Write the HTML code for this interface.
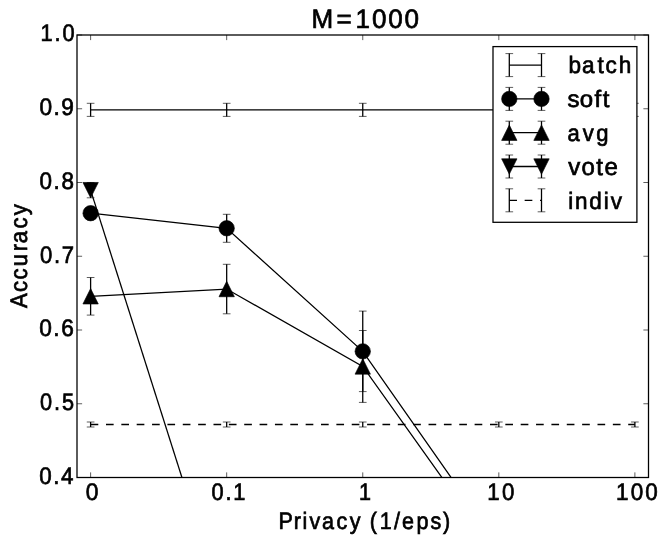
<!DOCTYPE html>
<html><head><meta charset="utf-8"><title>M=1000</title>
<style>
html,body{margin:0;padding:0;background:#fff;}
svg{display:block;will-change:transform;filter:grayscale(1)}
text{font-family:"Liberation Sans",sans-serif;fill:#000;font-kerning:none;text-rendering:geometricPrecision;stroke:#000;stroke-width:0.7px;}
</style></head>
<body>
<svg width="664" height="543" viewBox="0 0 664 543">
<rect width="664" height="543" fill="#fff"/>
<clipPath id="ax"><rect x="77.0" y="35.0" width="571.5" height="442.5"/></clipPath>
<g clip-path="url(#ax)">
<polyline points="90.61,109.85 634.89,109.85" fill="none" stroke="#000" stroke-width="1.28"/>
<line x1="90.61" y1="103.30" x2="90.61" y2="116.40" stroke="#000" stroke-width="1.28"/><line x1="86.77" y1="103.30" x2="94.45" y2="103.30" stroke="#000" stroke-width="0.64"/><line x1="86.77" y1="116.40" x2="94.45" y2="116.40" stroke="#000" stroke-width="0.64"/>
<line x1="226.68" y1="103.30" x2="226.68" y2="116.40" stroke="#000" stroke-width="1.28"/><line x1="222.84" y1="103.30" x2="230.52" y2="103.30" stroke="#000" stroke-width="0.64"/><line x1="222.84" y1="116.40" x2="230.52" y2="116.40" stroke="#000" stroke-width="0.64"/>
<line x1="362.75" y1="103.30" x2="362.75" y2="116.40" stroke="#000" stroke-width="1.28"/><line x1="358.91" y1="103.30" x2="366.59" y2="103.30" stroke="#000" stroke-width="0.64"/><line x1="358.91" y1="116.40" x2="366.59" y2="116.40" stroke="#000" stroke-width="0.64"/>
<line x1="498.82" y1="103.30" x2="498.82" y2="116.40" stroke="#000" stroke-width="1.28"/><line x1="494.98" y1="103.30" x2="502.66" y2="103.30" stroke="#000" stroke-width="0.64"/><line x1="494.98" y1="116.40" x2="502.66" y2="116.40" stroke="#000" stroke-width="0.64"/>
<line x1="634.89" y1="103.30" x2="634.89" y2="116.40" stroke="#000" stroke-width="1.28"/><line x1="631.05" y1="103.30" x2="638.73" y2="103.30" stroke="#000" stroke-width="0.64"/><line x1="631.05" y1="116.40" x2="638.73" y2="116.40" stroke="#000" stroke-width="0.64"/>
<polyline points="90.61,213.20 226.68,228.30 362.75,351.35 508.88,560.00" fill="none" stroke="#000" stroke-width="1.28"/>
<line x1="226.68" y1="214.30" x2="226.68" y2="242.30" stroke="#000" stroke-width="1.28"/><line x1="222.84" y1="214.30" x2="230.52" y2="214.30" stroke="#000" stroke-width="0.64"/><line x1="222.84" y1="242.30" x2="230.52" y2="242.30" stroke="#000" stroke-width="0.64"/>
<line x1="362.75" y1="311.10" x2="362.75" y2="391.60" stroke="#000" stroke-width="1.28"/><line x1="358.91" y1="311.10" x2="366.59" y2="311.10" stroke="#000" stroke-width="0.64"/><line x1="358.91" y1="391.60" x2="366.59" y2="391.60" stroke="#000" stroke-width="0.64"/>
<circle cx="90.61" cy="213.20" r="7.68" fill="#000" stroke="#000" stroke-width="0.64"/>
<circle cx="226.68" cy="228.30" r="7.68" fill="#000" stroke="#000" stroke-width="0.64"/>
<circle cx="362.75" cy="351.35" r="7.68" fill="#000" stroke="#000" stroke-width="0.64"/>
<polyline points="90.61,296.30 226.68,289.05 362.75,366.45 500.72,560.00" fill="none" stroke="#000" stroke-width="1.28"/>
<line x1="90.61" y1="277.50" x2="90.61" y2="315.10" stroke="#000" stroke-width="1.28"/><line x1="86.77" y1="277.50" x2="94.45" y2="277.50" stroke="#000" stroke-width="0.64"/><line x1="86.77" y1="315.10" x2="94.45" y2="315.10" stroke="#000" stroke-width="0.64"/>
<line x1="226.68" y1="264.30" x2="226.68" y2="313.80" stroke="#000" stroke-width="1.28"/><line x1="222.84" y1="264.30" x2="230.52" y2="264.30" stroke="#000" stroke-width="0.64"/><line x1="222.84" y1="313.80" x2="230.52" y2="313.80" stroke="#000" stroke-width="0.64"/>
<line x1="362.75" y1="330.50" x2="362.75" y2="402.40" stroke="#000" stroke-width="1.28"/><line x1="358.91" y1="330.50" x2="366.59" y2="330.50" stroke="#000" stroke-width="0.64"/><line x1="358.91" y1="402.40" x2="366.59" y2="402.40" stroke="#000" stroke-width="0.64"/>
<polygon points="90.61,288.62 82.93,303.98 98.29,303.98" fill="#000" stroke="#000" stroke-width="0.64" stroke-linejoin="miter"/>
<polygon points="226.68,281.37 219.00,296.73 234.36,296.73" fill="#000" stroke="#000" stroke-width="0.64" stroke-linejoin="miter"/>
<polygon points="362.75,358.77 355.07,374.13 370.43,374.13" fill="#000" stroke="#000" stroke-width="0.64" stroke-linejoin="miter"/>
<polyline points="90.61,190.15 208.15,560.00" fill="none" stroke="#000" stroke-width="1.28"/>
<line x1="90.61" y1="182.50" x2="90.61" y2="197.80" stroke="#000" stroke-width="1.28"/><line x1="86.77" y1="182.50" x2="94.45" y2="182.50" stroke="#000" stroke-width="0.64"/><line x1="86.77" y1="197.80" x2="94.45" y2="197.80" stroke="#000" stroke-width="0.64"/>
<polygon points="90.61,197.83 98.29,182.47 82.93,182.47" fill="#000" stroke="#000" stroke-width="0.64" stroke-linejoin="miter"/>
<polyline points="90.61,424.50 634.89,424.50" fill="none" stroke="#000" stroke-width="1.28" stroke-dasharray="7.68 7.68"/>
<line x1="90.61" y1="422.00" x2="90.61" y2="427.00" stroke="#000" stroke-width="1.28"/><line x1="86.77" y1="422.00" x2="94.45" y2="422.00" stroke="#000" stroke-width="0.64"/><line x1="86.77" y1="427.00" x2="94.45" y2="427.00" stroke="#000" stroke-width="0.64"/>
<line x1="226.68" y1="422.00" x2="226.68" y2="427.00" stroke="#000" stroke-width="1.28"/><line x1="222.84" y1="422.00" x2="230.52" y2="422.00" stroke="#000" stroke-width="0.64"/><line x1="222.84" y1="427.00" x2="230.52" y2="427.00" stroke="#000" stroke-width="0.64"/>
<line x1="362.75" y1="422.00" x2="362.75" y2="427.00" stroke="#000" stroke-width="1.28"/><line x1="358.91" y1="422.00" x2="366.59" y2="422.00" stroke="#000" stroke-width="0.64"/><line x1="358.91" y1="427.00" x2="366.59" y2="427.00" stroke="#000" stroke-width="0.64"/>
<line x1="498.82" y1="422.00" x2="498.82" y2="427.00" stroke="#000" stroke-width="1.28"/><line x1="494.98" y1="422.00" x2="502.66" y2="422.00" stroke="#000" stroke-width="0.64"/><line x1="494.98" y1="427.00" x2="502.66" y2="427.00" stroke="#000" stroke-width="0.64"/>
<line x1="634.89" y1="422.00" x2="634.89" y2="427.00" stroke="#000" stroke-width="1.28"/><line x1="631.05" y1="422.00" x2="638.73" y2="422.00" stroke="#000" stroke-width="0.64"/><line x1="631.05" y1="427.00" x2="638.73" y2="427.00" stroke="#000" stroke-width="0.64"/>
</g>
<rect x="77.0" y="35.0" width="571.5" height="442.5" fill="none" stroke="#000" stroke-width="1.28"/>
<line x1="90.61" y1="477.5" x2="90.61" y2="472.38" stroke="#000" stroke-width="0.64"/>
<line x1="90.61" y1="35.0" x2="90.61" y2="40.12" stroke="#000" stroke-width="0.64"/>
<line x1="226.68" y1="477.5" x2="226.68" y2="472.38" stroke="#000" stroke-width="0.64"/>
<line x1="226.68" y1="35.0" x2="226.68" y2="40.12" stroke="#000" stroke-width="0.64"/>
<line x1="362.75" y1="477.5" x2="362.75" y2="472.38" stroke="#000" stroke-width="0.64"/>
<line x1="362.75" y1="35.0" x2="362.75" y2="40.12" stroke="#000" stroke-width="0.64"/>
<line x1="498.82" y1="477.5" x2="498.82" y2="472.38" stroke="#000" stroke-width="0.64"/>
<line x1="498.82" y1="35.0" x2="498.82" y2="40.12" stroke="#000" stroke-width="0.64"/>
<line x1="634.89" y1="477.5" x2="634.89" y2="472.38" stroke="#000" stroke-width="0.64"/>
<line x1="634.89" y1="35.0" x2="634.89" y2="40.12" stroke="#000" stroke-width="0.64"/>
<line x1="77.0" y1="35.00" x2="82.12" y2="35.00" stroke="#000" stroke-width="0.64"/>
<line x1="648.5" y1="35.00" x2="643.38" y2="35.00" stroke="#000" stroke-width="0.64"/>
<line x1="77.0" y1="108.75" x2="82.12" y2="108.75" stroke="#000" stroke-width="0.64"/>
<line x1="648.5" y1="108.75" x2="643.38" y2="108.75" stroke="#000" stroke-width="0.64"/>
<line x1="77.0" y1="182.50" x2="82.12" y2="182.50" stroke="#000" stroke-width="0.64"/>
<line x1="648.5" y1="182.50" x2="643.38" y2="182.50" stroke="#000" stroke-width="0.64"/>
<line x1="77.0" y1="256.25" x2="82.12" y2="256.25" stroke="#000" stroke-width="0.64"/>
<line x1="648.5" y1="256.25" x2="643.38" y2="256.25" stroke="#000" stroke-width="0.64"/>
<line x1="77.0" y1="330.00" x2="82.12" y2="330.00" stroke="#000" stroke-width="0.64"/>
<line x1="648.5" y1="330.00" x2="643.38" y2="330.00" stroke="#000" stroke-width="0.64"/>
<line x1="77.0" y1="403.75" x2="82.12" y2="403.75" stroke="#000" stroke-width="0.64"/>
<line x1="648.5" y1="403.75" x2="643.38" y2="403.75" stroke="#000" stroke-width="0.64"/>
<line x1="77.0" y1="477.50" x2="82.12" y2="477.50" stroke="#000" stroke-width="0.64"/>
<line x1="648.5" y1="477.50" x2="643.38" y2="477.50" stroke="#000" stroke-width="0.64"/>
<rect x="493.0" y="46.6" width="143.90" height="175.70" fill="#fff" stroke="#000" stroke-width="1.28"/>
<polyline points="509.30,65.10 541.50,65.10" fill="none" stroke="#000" stroke-width="1.28"/>
<line x1="509.30" y1="53.60" x2="509.30" y2="76.60" stroke="#000" stroke-width="1.28"/><line x1="505.46" y1="53.60" x2="513.14" y2="53.60" stroke="#000" stroke-width="0.64"/><line x1="505.46" y1="76.60" x2="513.14" y2="76.60" stroke="#000" stroke-width="0.64"/>
<line x1="541.50" y1="53.60" x2="541.50" y2="76.60" stroke="#000" stroke-width="1.28"/><line x1="537.66" y1="53.60" x2="545.34" y2="53.60" stroke="#000" stroke-width="0.64"/><line x1="537.66" y1="76.60" x2="545.34" y2="76.60" stroke="#000" stroke-width="0.64"/>
<polyline points="509.30,98.90 541.50,98.90" fill="none" stroke="#000" stroke-width="1.28"/>
<line x1="509.30" y1="87.40" x2="509.30" y2="110.40" stroke="#000" stroke-width="1.28"/><line x1="505.46" y1="87.40" x2="513.14" y2="87.40" stroke="#000" stroke-width="0.64"/><line x1="505.46" y1="110.40" x2="513.14" y2="110.40" stroke="#000" stroke-width="0.64"/>
<line x1="541.50" y1="87.40" x2="541.50" y2="110.40" stroke="#000" stroke-width="1.28"/><line x1="537.66" y1="87.40" x2="545.34" y2="87.40" stroke="#000" stroke-width="0.64"/><line x1="537.66" y1="110.40" x2="545.34" y2="110.40" stroke="#000" stroke-width="0.64"/>
<circle cx="509.30" cy="98.90" r="7.68" fill="#000" stroke="#000" stroke-width="0.64"/>
<circle cx="541.50" cy="98.90" r="7.68" fill="#000" stroke="#000" stroke-width="0.64"/>
<polyline points="509.30,132.70 541.50,132.70" fill="none" stroke="#000" stroke-width="1.28"/>
<line x1="509.30" y1="121.20" x2="509.30" y2="144.20" stroke="#000" stroke-width="1.28"/><line x1="505.46" y1="121.20" x2="513.14" y2="121.20" stroke="#000" stroke-width="0.64"/><line x1="505.46" y1="144.20" x2="513.14" y2="144.20" stroke="#000" stroke-width="0.64"/>
<line x1="541.50" y1="121.20" x2="541.50" y2="144.20" stroke="#000" stroke-width="1.28"/><line x1="537.66" y1="121.20" x2="545.34" y2="121.20" stroke="#000" stroke-width="0.64"/><line x1="537.66" y1="144.20" x2="545.34" y2="144.20" stroke="#000" stroke-width="0.64"/>
<polygon points="509.30,125.02 501.62,140.38 516.98,140.38" fill="#000" stroke="#000" stroke-width="0.64" stroke-linejoin="miter"/>
<polygon points="541.50,125.02 533.82,140.38 549.18,140.38" fill="#000" stroke="#000" stroke-width="0.64" stroke-linejoin="miter"/>
<polyline points="509.30,166.50 541.50,166.50" fill="none" stroke="#000" stroke-width="1.28"/>
<line x1="509.30" y1="155.00" x2="509.30" y2="178.00" stroke="#000" stroke-width="1.28"/><line x1="505.46" y1="155.00" x2="513.14" y2="155.00" stroke="#000" stroke-width="0.64"/><line x1="505.46" y1="178.00" x2="513.14" y2="178.00" stroke="#000" stroke-width="0.64"/>
<line x1="541.50" y1="155.00" x2="541.50" y2="178.00" stroke="#000" stroke-width="1.28"/><line x1="537.66" y1="155.00" x2="545.34" y2="155.00" stroke="#000" stroke-width="0.64"/><line x1="537.66" y1="178.00" x2="545.34" y2="178.00" stroke="#000" stroke-width="0.64"/>
<polygon points="509.30,174.18 516.98,158.82 501.62,158.82" fill="#000" stroke="#000" stroke-width="0.64" stroke-linejoin="miter"/>
<polygon points="541.50,174.18 549.18,158.82 533.82,158.82" fill="#000" stroke="#000" stroke-width="0.64" stroke-linejoin="miter"/>
<polyline points="509.30,200.30 541.50,200.30" fill="none" stroke="#000" stroke-width="1.28" stroke-dasharray="7.68 7.68"/>
<line x1="509.30" y1="188.80" x2="509.30" y2="211.80" stroke="#000" stroke-width="1.28"/><line x1="505.46" y1="188.80" x2="513.14" y2="188.80" stroke="#000" stroke-width="0.64"/><line x1="505.46" y1="211.80" x2="513.14" y2="211.80" stroke="#000" stroke-width="0.64"/>
<line x1="541.50" y1="188.80" x2="541.50" y2="211.80" stroke="#000" stroke-width="1.28"/><line x1="537.66" y1="188.80" x2="545.34" y2="188.80" stroke="#000" stroke-width="0.64"/><line x1="537.66" y1="211.80" x2="545.34" y2="211.80" stroke="#000" stroke-width="0.64"/>
<text transform="translate(0,28.00) scale(0.9758,1)" x="319.13 344.76 364.33 381.15 397.84 414.53" y="0" font-size="26.71">M=1000</text>
<text transform="translate(0,41.00) scale(0.9083,1)" x="44.56 60.09 68.86" y="0" font-size="23.99">1.0</text>
<text transform="translate(0,115.00) scale(0.9452,1)" x="41.68 56.64 64.86" y="0" font-size="23.99">0.9</text>
<text transform="translate(0,189.00) scale(0.9359,1)" x="42.11 57.19 65.60" y="0" font-size="23.99">0.8</text>
<text transform="translate(0,263.00) scale(0.9200,1)" x="43.38 58.66 67.23" y="0" font-size="23.99">0.7</text>
<text transform="translate(0,336.00) scale(0.9461,1)" x="41.46 56.41 64.70" y="0" font-size="23.99">0.6</text>
<text transform="translate(0,410.00) scale(0.9055,1)" x="44.23 59.70 68.41" y="0" font-size="23.99">0.5</text>
<text transform="translate(0,484.00) scale(0.9336,1)" x="41.93 57.04 65.47" y="0" font-size="23.99">0.4</text>
<text transform="translate(0,500.00) scale(0.9514,1)" x="90.16" y="0" font-size="23.99">0</text>
<text transform="translate(0,500.00) scale(0.9083,1)" x="232.79 248.22 256.89" y="0" font-size="23.99">0.1</text>
<text transform="translate(0,500.00) scale(0.9025,1)" x="397.79" y="0" font-size="23.90">1</text>
<text transform="translate(0,500.00) scale(0.9267,1)" x="525.78 541.71" y="0" font-size="23.99">10</text>
<text transform="translate(0,500.00) scale(0.9352,1)" x="658.60 674.38 690.05" y="0" font-size="23.99">100</text>
<text transform="translate(0,529.00) scale(0.9101,1)" x="305.94 322.83 332.31 340.02 353.71 369.71 384.43 397.85 406.30 417.14 432.85 441.66 457.63 472.90 486.83" y="0" font-size="23.67">Privacy (1/eps)</text>
<text transform="translate(26.70,308.20) rotate(-90) scale(0.9253,1)" x="0.34 17.43 31.12 45.41 61.67 70.33 86.08 100.57" y="0" font-size="23.90">Accuracy</text>
<text transform="translate(0,73.00) scale(0.9541,1)" x="595.93 609.95 626.20 634.72 648.64" y="0" font-size="23.67">batch</text>
<text transform="translate(0,107.00) scale(1.0121,1)" x="560.78 572.85 587.41 595.53" y="0" font-size="23.71">soft</text>
<text transform="translate(0,141.00) scale(0.9436,1)" x="601.42 617.65 631.79" y="0" font-size="23.33">avg</text>
<text transform="translate(0,175.00) scale(0.9805,1)" x="579.49 592.95 608.09 616.62" y="0" font-size="24.48">vote</text>
<text transform="translate(0,209.00) scale(0.9501,1)" x="597.98 605.12 620.28 635.48 642.72" y="0" font-size="23.67">indiv</text>
</svg>
</body></html>
